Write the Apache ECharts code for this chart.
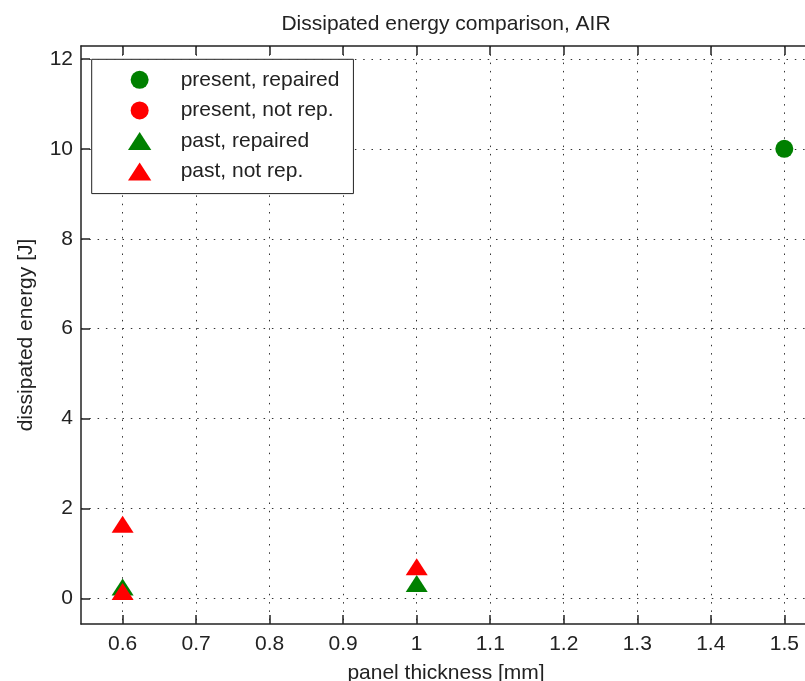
<!DOCTYPE html>
<html>
<head>
<meta charset="utf-8">
<script src="https://cdn.jsdelivr.net/npm/echarts@6/dist/echarts.min.js"></script>
<style>
  html, body { margin: 0; padding: 0; background: #fff; }
  #chart { width: 805px; height: 681px; }
</style>
</head>
<body>
<div id="chart"></div>
<script>
// Series names (legend order = drawing order)
const seriesNames = ['present, repaired', 'present, not rep.', 'past, repaired', 'past, not rep.'];

// Panel thickness [mm] and dissipated energy [J] per group
const presentRepairedX = [1.5];
const presentRepairedY = [10];
const presentNotRepX = [];
const presentNotRepY = [];
const pastRepairedX = [0.6, 1.0];
const pastRepairedY = [0.25, 0.33];
const pastNotRepX = [0.6, 0.6, 1.0];
const pastNotRepY = [1.65, 0.15, 0.7];

// Tick positions and labels
const xTicks = [0.6, 0.7, 0.8, 0.9, 1.0, 1.1, 1.2, 1.3, 1.4, 1.5];
const xTickLabels = ['0.6', '0.7', '0.8', '0.9', '1', '1.1', '1.2', '1.3', '1.4', '1.5'];
const yTicks = [0, 2, 4, 6, 8, 10, 12];
const yTickLabels = ['0', '2', '4', '6', '8', '10', '12'];

// Axis limits
const xLimits = [0.5434, 1.5363];
const yLimits = [-0.572, 12.289];

const FONT = "'Liberation Sans', Arial, Helvetica, sans-serif";
const INK = '#222';
const GREEN = '#008000';
const RED = '#ff0000';

function pairs(xs, ys) { return xs.map((x, i) => [x, ys[i]]); }
function labelFor(ticks, labels) {
  return v => {
    const i = ticks.findIndex(t => Math.abs(t - v) < 1e-9);
    return i >= 0 ? labels[i] : '';
  };
}

const gridDots = { show: true, lineStyle: { color: '#333', width: 1, type: [1.5, 6.8] } };

const chart = echarts.init(document.getElementById('chart'), null, { renderer: 'canvas' });

chart.setOption({
  backgroundColor: '#fff',
  animation: false,
  textStyle: { fontFamily: FONT, color: INK },
  title: {
    text: 'Dissipated energy comparison, AIR',
    left: 441, top: 9, textAlign: 'center',
    textStyle: { fontFamily: FONT, fontSize: 21, fontWeight: 'normal', color: INK }
  },
  grid: { left: 81, top: 46, width: 730, height: 578, containLabel: false, outerBoundsMode: 'none' },
  legend: {
    orient: 'vertical',
    left: 91.7, top: 59.3,
    padding: [10, 14, 11.5, 36.3],
    itemWidth: 72, itemHeight: 18, itemGap: 9.6,
    symbolKeepAspect: true,
    backgroundColor: '#fff',
    borderColor: INK, borderWidth: 1,
    textStyle: { fontFamily: FONT, fontSize: 21, lineHeight: 21, color: INK },
    data: [
      { name: seriesNames[0], icon: 'circle' },
      { name: seriesNames[1], icon: 'circle' },
      { name: seriesNames[2], icon: 'path://M11,0 L22,17 L0,17 Z' },
      { name: seriesNames[3], icon: 'path://M11,0 L22,17 L0,17 Z' }
    ],
    selectedMode: false
  },
  xAxis: [
    {
      type: 'value', position: 'bottom',
      min: xLimits[0], max: xLimits[1],
      name: 'panel thickness [mm]', nameLocation: 'middle', nameGap: 39,
      nameTextStyle: { fontFamily: FONT, fontSize: 21, color: INK },
      axisLine: { show: true, onZero: false, lineStyle: { color: INK, width: 1.5 } },
      axisTick: { show: true, inside: true, length: 9, customValues: xTicks, lineStyle: { color: INK, width: 1.5 } },
      axisLabel: { show: true, margin: 10, customValues: xTicks, formatter: labelFor(xTicks, xTickLabels),
                   fontFamily: FONT, fontSize: 21, color: INK },
      splitLine: gridDots
    },
    {
      type: 'value', position: 'top',
      min: xLimits[0], max: xLimits[1],
      axisLine: { show: true, onZero: false, lineStyle: { color: INK, width: 1.5 } },
      axisTick: { show: true, inside: true, length: 9, customValues: xTicks, lineStyle: { color: INK, width: 1.5 } },
      axisLabel: { show: false },
      splitLine: { show: false }
    }
  ],
  yAxis: [
    {
      type: 'value', position: 'left',
      min: yLimits[0], max: yLimits[1],
      name: 'dissipated energy [J]', nameLocation: 'middle', nameGap: 44,
      nameTextStyle: { fontFamily: FONT, fontSize: 21, color: INK },
      axisLine: { show: true, onZero: false, lineStyle: { color: INK, width: 1.5 } },
      axisTick: { show: true, inside: true, length: 9, customValues: yTicks, lineStyle: { color: INK, width: 1.5 } },
      axisLabel: { show: true, margin: 8, customValues: yTicks, formatter: labelFor(yTicks, yTickLabels),
                   fontFamily: FONT, fontSize: 21, color: INK },
      splitLine: gridDots
    }
  ],
  series: [
    { name: seriesNames[0], type: 'scatter', symbol: 'circle', symbolSize: 18,
      itemStyle: { color: GREEN, opacity: 1 }, data: pairs(presentRepairedX, presentRepairedY) },
    { name: seriesNames[1], type: 'scatter', symbol: 'circle', symbolSize: 18,
      itemStyle: { color: RED, opacity: 1 }, data: pairs(presentNotRepX, presentNotRepY) },
    { name: seriesNames[2], type: 'scatter', symbol: 'triangle', symbolSize: [22, 17],
      itemStyle: { color: GREEN, opacity: 1 }, data: pairs(pastRepairedX, pastRepairedY) },
    { name: seriesNames[3], type: 'scatter', symbol: 'triangle', symbolSize: [22, 17],
      itemStyle: { color: RED, opacity: 1 }, data: pairs(pastNotRepX, pastNotRepY) }
  ]
});
</script>
</body>
</html>
